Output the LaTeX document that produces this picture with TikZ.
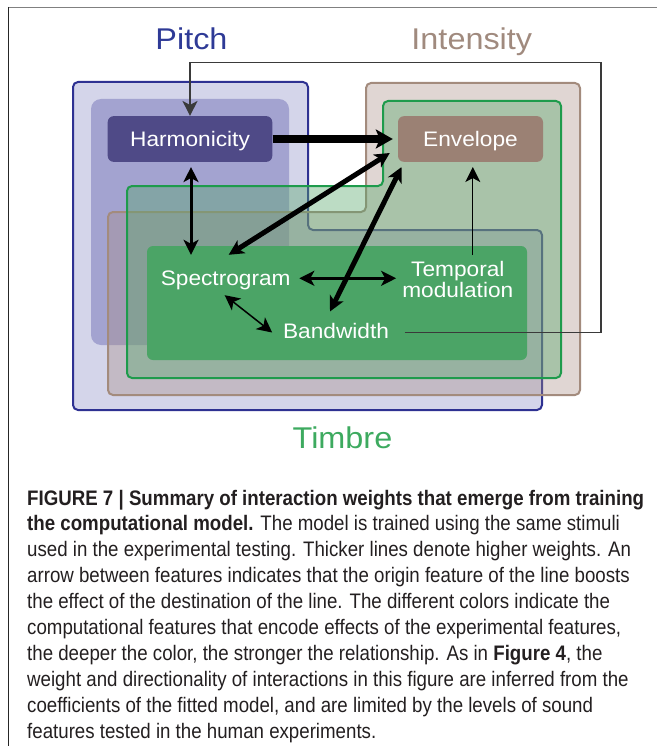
\documentclass[tikz,border=0pt]{standalone}
\usepackage{fontspec}
\setmainfont{Liberation Sans}
\newfontfamily\lblfont[FakeStretch=1.08]{Liberation Sans}
\newfontfamily\capfont[FakeStretch=0.89]{Liberation Sans}
\usetikzlibrary{arrows.meta,calc}
\definecolor{pitchfill}{HTML}{D4D5EA}
\definecolor{pitchline}{HTML}{2E3192}
\definecolor{pitchinner}{HTML}{A3A3D0}
\definecolor{intfill}{HTML}{A68A81}
\definecolor{intline}{HTML}{A38B7D}
\definecolor{timfill}{HTML}{57A76B}
\definecolor{timline}{HTML}{1E9B4C}
\definecolor{innergreen}{HTML}{4BA466}
\definecolor{harmcol}{HTML}{4F4A87}
\definecolor{envcol}{HTML}{9B8174}
\definecolor{fbgray}{HTML}{3A3A3A}
\definecolor{captext}{HTML}{231F20}
\definecolor{tpitch}{HTML}{2E3A96}
\definecolor{tint}{HTML}{A08A7E}
\definecolor{ttim}{HTML}{3DAA5F}
\begin{document}
\begin{tikzpicture}[x=1pt,y=-1pt,
  hd/.tip={Stealth[length=15pt,width=15pt,inset=4pt]},
  bighd/.tip={Stealth[length=17pt,width=19pt,inset=4pt]},
  boxnode/.style={rounded corners=6pt,text=white,inner sep=0pt,
    font=\lblfont\fontsize{21}{21}\selectfont,text height=15pt,text depth=0pt},
  lbl/.style={text=white,inner sep=0pt,font=\lblfont\fontsize{21}{21}\selectfont,
    text height=15.5pt,text depth=4.5pt},
  ttl/.style={inner sep=0pt,anchor=base,font=\lblfont\fontsize{30}{30}\selectfont},
  capline/.style={inner sep=0pt,anchor=base west,text=captext,
    font=\capfont\fontsize{21}{24}\selectfont},
  region/.style={line width=2pt,rounded corners=5pt},
  arr/.style={draw=black}
]
\useasboundingbox (0,0) rectangle (657,746);
% page frame
\draw[line width=1.8pt,draw=black!50] (8,7.5) -- (657,7.5);
\draw[line width=1.3pt,draw=black!85] (8.3,7) -- (8.3,746);

% Pitch region
\draw[region,fill=pitchfill,draw=pitchline]
  (73,82) -- (308,82) -- (308,230) -- (542,230) -- (542,410) -- (73,410) -- cycle;
\fill[pitchinner,rounded corners=10pt] (91,99) rectangle (289,345);
% Intensity region
\draw[region,fill=intfill,fill opacity=0.35,draw=intline]
  (366,83) -- (580,83) -- (580,395) -- (108,395) -- (108,212) -- (366,212) -- cycle;
% Timbre region
\draw[region,fill=timfill,fill opacity=0.4,draw=timline]
  (383,101) -- (561,101) -- (561,378) -- (127,378) -- (127,186) -- (383,186) -- cycle;
\fill[innergreen,rounded corners=6pt] (147,246) rectangle (527,360);

% titles
\node[ttl,text=tpitch] (tpitch) at (191.5,49.3) {Pitch};
\node[ttl,text=tint] (tint) at (471.8,49.3) {Intensity};
\node[ttl,text=ttim] (ttim) at (342.5,448.3) {Timbre};

% feature nodes
\node[boxnode,fill=harmcol,minimum width=164.6pt,minimum height=45.7pt] (harm) at (190,139) {Harmonicity};
\node[boxnode,fill=envcol,minimum width=145pt,minimum height=45.7pt] (env) at (470.5,139) {Envelope};
\node[lbl,anchor=base] (spec) at (225.7,285) {Spectrogram};
\node[lbl,anchor=base] (band) at (336,338) {Bandwidth};
\node[text=white,inner sep=0pt,align=center,font=\lblfont\fontsize{21}{19.4}\selectfont] (temp) at (457.8,279.4) {Temporal\\modulation};

% connectors
\draw[arr,line width=8pt,-{bighd}] (harm.east) -- ($(env.west)+(-5,0)$);
\draw[arr,line width=5pt,{hd}-{hd}] ($(spec.north)+(3,-14.5)$) -- ($(env.west)+(-8,14)$);
\draw[arr,line width=5pt,{hd}-{hd}] ($(band.north)+(-6,-10.8)$) -- ($(env.south west)+(3.7,5)$);
\draw[arr,line width=3pt,{hd}-{hd}] ($(harm.south)+(1,5)$) -- ($(harm.south |- spec.north)+(1,-14.5)$);
\coordinate (st1) at ($(spec.east)+(8.5,-1.2)$);
\draw[arr,line width=3pt,{hd}-{hd},shorten >=6pt] (st1) -- (st1 -| temp.west);
\draw[arr,line width=1.5pt,{hd}-{hd}] ($(spec.south)+(-1,5.5)$) -- ($(band.west)+(-10.7,0)$);
\draw[arr,line width=1.2pt,-{hd}] ($(temp.north)+(15,-6)$) -- ($(env.south)+(2.3,5)$);
\coordinate (fbc) at (600.8,62.3);
\draw[line width=1.4pt,draw=fbgray,-{hd}] ($(band.east)+(15.5,0)$) -| (fbc) -| (harm.north);

% caption
\node[capline] (c1) at (27,505) {\bfseries FIGURE 7 | Summary of interaction weights that emerge from training};
\node[capline] (c2) at (27,530.95) {{\bfseries the computational model.} The model is trained using the same stimuli};
\node[capline] (c3) at (27,556.9) {used in the experimental testing. Thicker lines denote higher weights. An};
\node[capline] (c4) at (27,582.85) {arrow between features indicates that the origin feature of the line boosts};
\node[capline] (c5) at (27,608.8) {the effect of the destination of the line. The different colors indicate the};
\node[capline] (c6) at (27,634.75) {computational features that encode effects of the experimental features,};
\node[capline] (c7) at (27,660.7) {the deeper the color, the stronger the relationship. As in {\bfseries Figure 4}, the};
\node[capline] (c8) at (27,686.65) {weight and directionality of interactions in this figure are inferred from the};
\node[capline] (c9) at (27,712.6) {coefficients of the fitted model, and are limited by the levels of sound};
\node[capline] (c10) at (27,738.55) {features tested in the human experiments.};
\end{tikzpicture}
\end{document}
